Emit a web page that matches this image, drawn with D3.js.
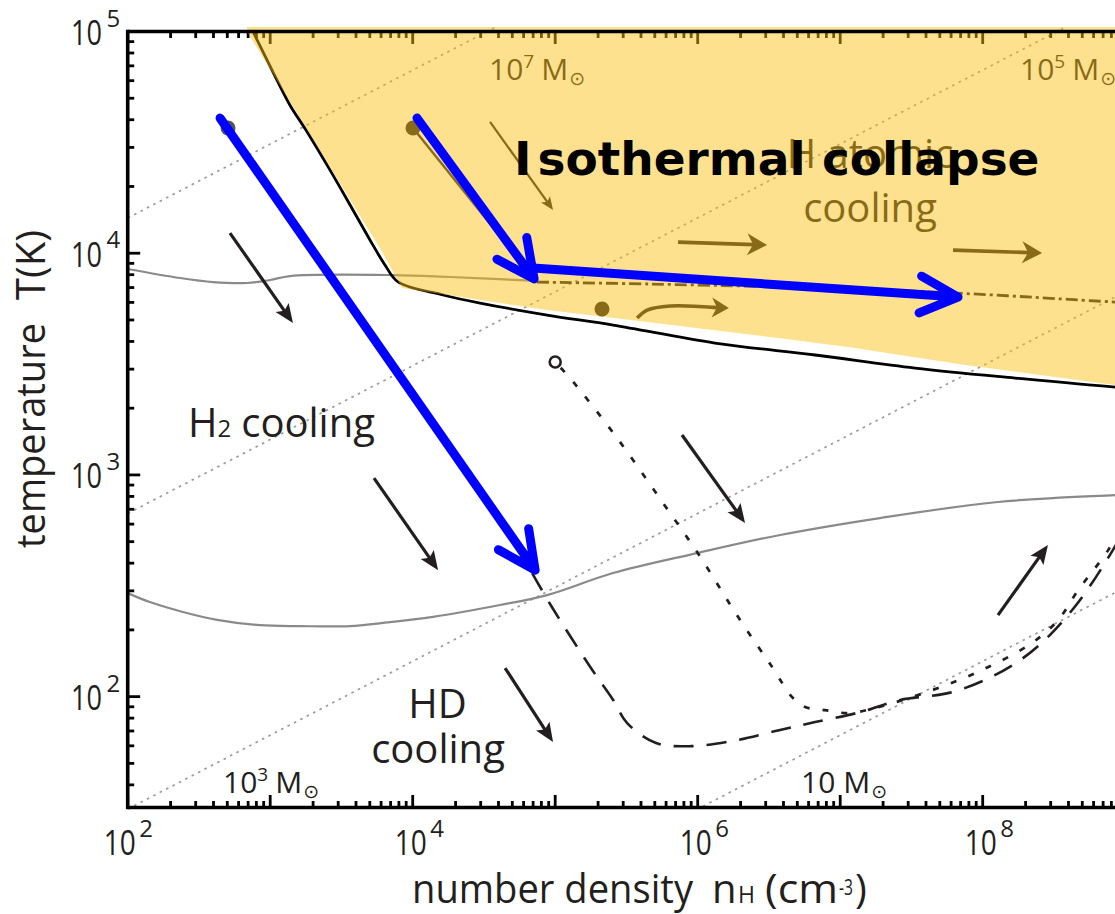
<!DOCTYPE html>
<html>
<head>
<meta charset="utf-8">
<script src="https://cdn.jsdelivr.net/npm/d3@7/dist/d3.min.js"></script>
<style>
  html,body{margin:0;padding:0;background:#fff;}
  svg{display:block;}
</style>
</head>
<body>
<svg id="chart" width="1115" height="914" viewBox="0 0 1115 914"></svg>
<script>
// ================= DATA =================
// tick labels (powers of ten)
const xTickExponents = ["2", "4", "6", "8"];
const yTickExponents = ["2", "3", "4", "5"];

// thick black boundary curve (n [cm^-3], T [K])
const boundaryN = [757, 1030, 1377, 1782, 2630, 3636, 5012, 6390, 7890, 16330, 29700, 87700, 254700, 1.32e6, 6.67e6, 3.35e7, 1.69e8, 8.5e8, 2.5e9];
const boundaryT = [1.0e5, 67000, 46500, 35950, 23700, 16500, 11480, 8850, 7420, 6480, 5960, 5260, 4740, 3935, 3475, 3035, 2735, 2490, 2380];

// shaded atomic-cooling region (left and lower edge)
const regionN = [689, 1618, 3640, 5900, 8410, 87700, 441600, 3.79e6, 1.135e7, 7.52e7, 8.5e8, 3e9];
const regionT = [1.0e5, 40700, 17400, 10540, 6970, 5540, 4900, 4140, 3775, 3130, 2545, 2380];

// grey solid curve near 8000 K
const atomCurveN = [100, 233, 397, 689, 998, 1377, 7280, 18300, 74500];
const atomCurveT = [8490, 7730, 7410, 7340, 7570, 7890, 7970, 7810, 7500];

// grey solid H2 curve
const h2CurveN = [100, 143, 244, 424, 847, 1618, 3630, 6190, 13900, 41000, 87700, 2.55e5, 9.9e5, 3.79e6, 1.9e7, 1.28e8, 8.5e8, 2e9];
const h2CurveT = [293, 267, 241, 222, 210, 208, 208, 215, 229, 259, 287, 361, 444, 536, 639, 755, 811, 830];

// atomic-cooling track (first solid part, then dashed)
const trackAN = [10050, 74500];
const trackAT = [36700, 7410];
const trackBN = [74500, 4.62e5, 3.79e6, 6.4e7, 8.5e8, 2e9];
const trackBT = [7410, 7260, 7040, 6610, 6020, 5850];

// fine dotted track starting from open circle
const dottedN = [1e5, 1.27e5, 2.72e5, 5.71e5, 9.9e5, 1.98e6, 3.33e6, 4.6e6, 5.68e6, 7.85e6, 1.14e7, 1.76e7, 4.43e7, 9.93e7, 2.23e8, 3.39e8, 4.69e8, 7.6e8, 1e9];
const dottedT = [3230, 2735, 1466, 747, 449, 222, 136, 99.5, 89.7, 86.9, 84.3, 88.9, 107, 132, 175, 222, 303, 458, 625];

// long dashed track
const dashedN = [6.89e4, 9.5e4, 1.82e5, 2.55e5, 3.2e5, 5.1e5, 9.0e5, 1.89e6, 3.72e6, 6.67e6, 1.4e7, 2.63e7, 5.8e7, 1.04e8, 1.83e8, 2.97e8, 4.82e8, 7.8e8, 1.08e9];
const dashedT = [361, 253, 132, 96.6, 76, 61.8, 59.8, 63.7, 70.6, 76.8, 85.3, 96.6, 104, 119, 146, 190, 273, 435, 625];

// Jeans-mass lines (end points)
const jeansLabel = ["7", "5", "3", ""];
const jeansStartN = [1e2, 1e2, 1e2, 1e2];
const jeansStartT = [14420, 670, 31.1, 1.445];
const jeansEndN = [1e10, 1e10, 1e10, 1e10];
const jeansEndT = [6.69e6, 3.11e5, 14440, 670];

// small black arrows [n1, T1, n2, T2]
const coolArrows = [
  [522, 12330, 1445, 4840],
  [5350, 968, 15070, 372],
  [44500, 134.6, 96600, 62.4],
  [7.76e5, 1514, 2.15e6, 607],
  [1.28e8, 233, 2.87e8, 483]
];
// arrows inside the atomic region
const atomArrowThin = [[34900, 39100, 96600, 15670]];
const atomArrows = [
  [7.28e5, 11220, 3.07e6, 10890],
  [6.19e7, 10330, 2.61e8, 10020]
];
const curvedArrowN = [3.76e5, 4.42e5, 6.41e5, 1.32e6];
const curvedArrowT = [5100, 5540, 5780, 5690];

// points
const filledDotN = [10050, 2.13e5];
const filledDotT = [36700, 5600];
const greyDotN = [506];
const greyDotT = [36700];
const openCircleN = [1e5];
const openCircleT = [3230];

// blue arrows [n1, T1, n2, T2]
const blueArrows = [
  [445, 40700, 72300, 372],
  [10720, 40700, 71100, 7660],
  [70000, 8570, 6.71e7, 6340]
];

// ================= DRAWING =================
const svg = d3.select("#chart");
const INK = "#231f20";
const FONT = '"Open Sans","Noto Sans","DejaVu Sans",sans-serif';

const X0 = 127.7, DEC = 142.5, YT = 31.5, YB = 807.5;
const x = d3.scaleLog().domain([1e2, 1e10]).range([X0, X0 + 8 * DEC]);
const y = d3.scaleLog().domain([Math.pow(10, 1.5), 1e5]).range([YB, YT]);

svg.append("rect").attr("width", 1115).attr("height", 914).attr("fill", "#fff");

const defs = svg.append("defs");
defs.append("clipPath").attr("id", "plot").append("rect")
  .attr("x", X0).attr("y", 27).attr("width", 8 * DEC).attr("height", YB - 27);

const line = d3.line().x(d => x(d[0])).y(d => y(d[1]));
const smooth = d3.line().x(d => x(d[0])).y(d => y(d[1])).curve(d3.curveCatmullRom.alpha(0.5));

const base = svg.append("g").attr("clip-path", "url(#plot)");

// Jeans lines
jeansStartN.forEach((n, i) => {
  base.append("path")
    .datum([[n, jeansStartT[i]], [jeansEndN[i], jeansEndT[i]]])
    .attr("d", line)
    .attr("fill", "none").attr("stroke", "#9c9c9c").attr("stroke-width", 1.7)
    .attr("stroke-dasharray", "2.6,4.6");
});

// grey curves
[[atomCurveN, atomCurveT], [h2CurveN, h2CurveT]].forEach(([N, T]) => {
  base.append("path").datum(d3.zip(N, T)).attr("d", smooth)
    .attr("fill", "none").attr("stroke", "#8a8a8a").attr("stroke-width", 2.2);
});

// black boundary
base.append("path").datum(d3.zip(boundaryN, boundaryT)).attr("d", smooth)
  .attr("fill", "none").attr("stroke", "#000").attr("stroke-width", 2.8);

// atomic track
base.append("path").datum(d3.zip(trackAN, trackAT)).attr("d", line)
  .attr("fill", "none").attr("stroke", INK).attr("stroke-width", 2.4);
base.append("path").datum(d3.zip(trackBN, trackBT)).attr("d", smooth)
  .attr("fill", "none").attr("stroke", INK).attr("stroke-width", 2.8)
  .attr("stroke-dasharray", "12,4,3,4");

// dotted & dashed tracks
base.append("path").datum(d3.zip(dottedN, dottedT)).attr("d", smooth)
  .attr("fill", "none").attr("stroke", INK).attr("stroke-width", 2.7)
  .attr("stroke-dasharray", "6,13").attr("stroke-dashoffset", -8);
base.append("path").datum(d3.zip(dashedN, dashedT)).attr("d", smooth)
  .attr("fill", "none").attr("stroke", INK).attr("stroke-width", 2.6)
  .attr("stroke-dasharray", "20,13");

// points
base.selectAll(".fdot").data(d3.zip(filledDotN, filledDotT)).join("circle")
  .attr("cx", d => x(d[0])).attr("cy", d => y(d[1])).attr("r", 7.5).attr("fill", INK);
base.selectAll(".gdot").data(d3.zip(greyDotN, greyDotT)).join("circle")
  .attr("cx", d => x(d[0])).attr("cy", d => y(d[1])).attr("r", 7.5).attr("fill", "#555");
base.selectAll(".odot").data(d3.zip(openCircleN, openCircleT)).join("circle")
  .attr("cx", d => x(d[0])).attr("cy", d => y(d[1])).attr("r", 5.5)
  .attr("fill", "#fff").attr("stroke", INK).attr("stroke-width", 2.6);

// arrows with filled heads
function arrow(g, px1, py1, px2, py2, w, L, hw, notch, color) {
  const a = Math.atan2(py2 - py1, px2 - px1), c = Math.cos(a), s = Math.sin(a);
  const bx = px2 - L * c, by = py2 - L * s;
  const nx = px2 - (L - notch) * c, ny = py2 - (L - notch) * s;
  g.append("line").attr("x1", px1).attr("y1", py1).attr("x2", nx + c).attr("y2", ny + s)
    .attr("stroke", color).attr("stroke-width", w);
  g.append("path")
    .attr("d", `M${px2},${py2}L${bx - hw * s},${by + hw * c}L${nx},${ny}L${bx + hw * s},${by - hw * c}Z`)
    .attr("fill", color);
}
coolArrows.forEach(d => arrow(base, x(d[0]), y(d[1]), x(d[2]), y(d[3]), 3.2, 19, 8, 4, INK));
atomArrowThin.forEach(d => arrow(base, x(d[0]), y(d[1]), x(d[2]), y(d[3]), 2.2, 13, 5.5, 3, INK));
atomArrows.forEach(d => arrow(base, x(d[0]), y(d[1]), x(d[2]), y(d[3]), 3.6, 20, 11, 6, INK));

// curved arrow
{
  const pts = d3.zip(curvedArrowN, curvedArrowT);
  base.append("path").datum(pts).attr("d", smooth)
    .attr("fill", "none").attr("stroke", INK).attr("stroke-width", 3.6);
  const p3 = pts[pts.length - 2], p4 = pts[pts.length - 1];
  const ex = x(p4[0]), ey = y(p4[1]);
  const a = Math.atan2(ey - y(p3[1]), ex - x(p3[0]));
  arrow(base, ex - 2 * Math.cos(a), ey - 2 * Math.sin(a), ex + 14 * Math.cos(a), ey + 14 * Math.sin(a), 3.6, 17, 10, 5, INK);
}

// ---------- text helpers ----------
function massLabel(g, x0, baseY, exp) {
  const t = g.append("text").attr("x", x0).attr("y", baseY)
    .attr("font-family", FONT).attr("font-size", 30).attr("fill", INK);
  t.append("tspan").text("10");
  if (exp) t.append("tspan").attr("font-size", 19).attr("dy", -12).text(exp);
  t.append("tspan").attr("dy", exp ? 12 : 0).attr("dx", exp ? 7 : 8).text("M");
  t.append("tspan").attr("font-family", '"DejaVu Sans",sans-serif').attr("font-size", 19)
    .attr("dy", 5).attr("dx", 1).text("\u2299");
}
const labelPos = [[489, 80], [1020, 80], [223, 793], [801, 793]];
jeansLabel.forEach((e, i) => massLabel(base, labelPos[i][0], labelPos[i][1], e));

function txt(g, str, px, py, size, anchor) {
  return g.append("text").attr("x", px).attr("y", py).attr("font-family", FONT)
    .attr("font-size", size).attr("fill", INK).attr("text-anchor", anchor || "start").text(str);
}
// H2 cooling
{
  const t = base.append("text").attr("x", 188).attr("y", 437).attr("font-family", FONT)
    .attr("font-size", 40).attr("fill", INK);
  t.append("tspan").text("H");
  t.append("tspan").attr("font-size", 24).text("2");
  t.append("tspan").attr("dx", 10).text("cooling");
}
txt(base, "HD", 437.5, 718, 40, "middle");
txt(base, "cooling", 438, 763, 40, "middle");
txt(base, "H atomic", 870, 168, 40, "middle");
txt(base, "cooling", 870, 222, 40, "middle");

// ---------- axis ticks (inward), positioned with the scales ----------
const allX = x.ticks(), allY = y.ticks();
const isPow = v => Math.abs(Math.log10(v) - Math.round(Math.log10(v))) < 1e-9;
const tickSpecs = [];
allX.forEach(v => {
  const len = isPow(v) ? 12.5 : 6.5, px = x(v);
  tickSpecs.push([px, YB, px, YB - len]);
  tickSpecs.push([px, YT, px, YT + len]);
});
allY.forEach(v => {
  const len = isPow(v) ? 12.5 : 6.5, py = y(v);
  tickSpecs.push([X0, py, X0 + len, py]);
});
const tickG = svg.append("g").attr("class", "ticks");
tickG.selectAll("line").data(tickSpecs).join("line")
  .attr("x1", d => d[0]).attr("y1", d => d[1]).attr("x2", d => d[2]).attr("y2", d => d[3])
  .attr("stroke", "#000").attr("stroke-width", 2.8);

// ---------- overlay (atomic cooling region) ----------
{
  const poly = d3.zip(regionN, regionT).concat([[3e9, 2e5], [689, 2e5]]);
  svg.append("path").attr("clip-path", "url(#plot)")
    .attr("d", line(poly) + "Z")
    .attr("fill", "#fbbf11").attr("fill-opacity", 0.47);
}

// axis lines
const axL = svg.append("g").attr("stroke", "#000").attr("stroke-width", 3.6);
axL.append("line").attr("x1", X0).attr("x2", X0).attr("y1", YT - 1.8).attr("y2", YB + 1.8);
axL.append("line").attr("x1", X0).attr("x2", X0 + 8 * DEC).attr("y1", YB).attr("y2", YB);
axL.append("line").attr("x1", X0).attr("x2", X0 + 8 * DEC).attr("y1", YT).attr("y2", YT);

// tick labels
const labG = svg.append("g");
xTickExponents.forEach((e, i) => {
  const tx = x(Math.pow(10, +e)) + (i === 0 ? -8 : -2);
  labG.append("text").attr("x", tx - 16).attr("y", 855).attr("font-family", FONT)
    .attr("font-size", 35).attr("fill", INK)
    .attr("textLength", 32).attr("lengthAdjust", "spacingAndGlyphs").text("10");
  labG.append("text").attr("x", tx + 19.5).attr("y", 837).attr("font-family", FONT)
    .attr("font-size", 24).attr("fill", INK).text(e);
});
yTickExponents.forEach(e => {
  const ty = y(Math.pow(10, +e));
  labG.append("text").attr("x", 71).attr("y", ty + 13.5).attr("font-family", FONT)
    .attr("font-size", 35).attr("fill", INK)
    .attr("textLength", 31).attr("lengthAdjust", "spacingAndGlyphs").text("10");
  labG.append("text").attr("x", 106.5).attr("y", ty - 5).attr("font-family", FONT)
    .attr("font-size", 24).attr("fill", INK).text(e);
});

// axis titles
labG.append("text").attr("x", 412).attr("y", 903).attr("font-family", FONT).attr("font-size", 40)
  .attr("fill", INK).attr("textLength", 281).attr("lengthAdjust", "spacingAndGlyphs").text("number density");
txt(labG, "n", 712, 903, 40);
txt(labG, "H", 738, 903, 23);
labG.append("text").attr("x", 765).attr("y", 903).attr("font-family", FONT).attr("font-size", 40)
  .attr("fill", INK).attr("textLength", 73).attr("lengthAdjust", "spacingAndGlyphs").text("(cm");
labG.append("text").attr("x", 839).attr("y", 895).attr("font-family", FONT).attr("font-size", 21)
  .attr("fill", INK).attr("textLength", 14).attr("lengthAdjust", "spacingAndGlyphs").text("-3");
txt(labG, ")", 855, 903, 40);

{
  const g = labG.append("g").attr("transform", "translate(45,548) rotate(-90)");
  g.append("text").attr("x", 0).attr("y", 0).attr("font-family", FONT).attr("font-size", 40)
    .attr("fill", INK).attr("textLength", 225).attr("lengthAdjust", "spacingAndGlyphs").text("temperature");
  g.append("text").attr("x", 248).attr("y", 0).attr("font-family", FONT).attr("font-size", 40)
    .attr("fill", INK).text("T(K)");
}

// ---------- blue arrows ----------
const blueG = svg.append("g").attr("fill", "none").attr("stroke", "#0000ff")
  .attr("stroke-width", 9).attr("stroke-linecap", "round").attr("stroke-linejoin", "round");
blueArrows.forEach(d => {
  const x1 = x(d[0]), y1 = y(d[1]), x2 = x(d[2]), y2 = y(d[3]);
  const a = Math.atan2(y2 - y1, x2 - x1) + Math.PI, L = 42, h = 26 * Math.PI / 180;
  const l1 = [x2 + L * Math.cos(a - h), y2 + L * Math.sin(a - h)];
  const l2 = [x2 + L * Math.cos(a + h), y2 + L * Math.sin(a + h)];
  blueG.append("path").attr("d", `M${x1},${y1}L${x2},${y2}M${l1[0]},${l1[1]}L${x2},${y2}L${l2[0]},${l2[1]}`);
});

// title
{
  const t = svg.append("text").attr("x", 514).attr("y", 175)
    .attr("font-family", '"DejaVu Sans",sans-serif').attr("font-weight", "bold")
    .attr("font-size", 47).attr("fill", "#000");
  t.append("tspan").text("I");
  t.append("tspan").attr("dx", 6).text("sothermal collapse");
}
</script>
</body>
</html>
